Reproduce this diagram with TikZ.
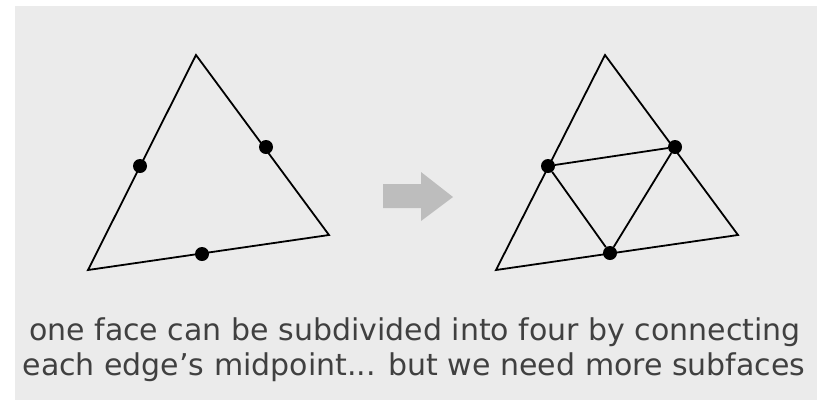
\documentclass[tikz,border=0pt]{standalone}
\usepackage{fontspec}
\setmainfont{DejaVu Sans}
\usetikzlibrary{shapes.arrows}
\definecolor{bg}{HTML}{EBEBEB}
\definecolor{arrowgray}{HTML}{BDBDBD}
\definecolor{textgray}{HTML}{404040}
\tikzset{
  edge/.style={line width=1.8pt, black},
  middot/.style={circle, fill=black, inner sep=0pt, minimum size=14pt},
}
\begin{document}
\begin{tikzpicture}[x=1pt,y=-1pt]
    \useasboundingbox (0,0) rectangle (817,400);
    \fill[white] (0,0) rectangle (817,400);
    \fill[bg] (15,6) rectangle (817,400);
    % first face
    \coordinate (a1) at (196,55);
    \coordinate (b1) at (88,270);
    \coordinate (c1) at (329,235);
    \draw[edge] (a1) -- (b1) -- (c1) -- cycle;
    \node[middot] (ab1) at (140,166) {};
    \node[middot] (ac1) at (266,147) {};
    \node[middot] (bc1) at (202,254) {};
    % arrow
    \fill[arrowgray] (383,184) -- (421,184) -- (421,172) -- (453,197)
        -- (421,221) -- (421,208) -- (383,208) -- cycle;
    % subdivided face
    \coordinate (a2) at (605,55);
    \coordinate (b2) at (496,270);
    \coordinate (c2) at (738,235);
    \draw[edge] (a2) -- (b2) -- (c2) -- cycle;
    \node[middot] (ab2) at (548,166) {};
    \node[middot] (ac2) at (675,147) {};
    \node[middot] (bc2) at (610,253) {};
    \draw[edge] (ab2) -- (ac2) -- (bc2) -- (ab2);
    % caption
    \node[text=textgray, font=\fontsize{30}{35}\selectfont, align=center,
          anchor=base] (cap1) at (415,340)
        {one face can be subdivided into four by connecting};
    \node[text=textgray, font=\fontsize{30}{35}\selectfont, align=center,
          anchor=base] (cap2) at (414,375)
        {each edge’s midpoint... but we need more subfaces};
\end{tikzpicture}
\end{document}
